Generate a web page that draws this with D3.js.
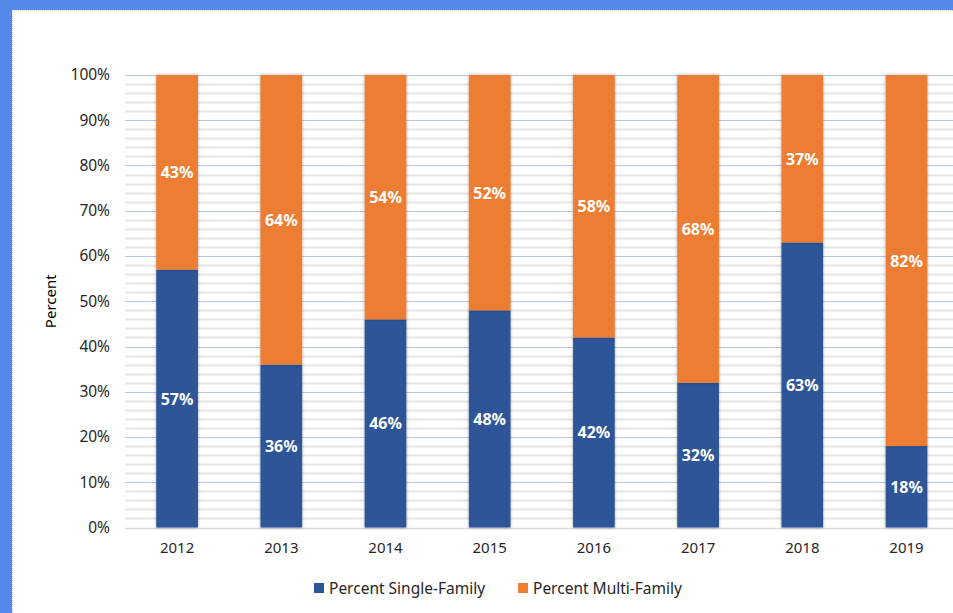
<!DOCTYPE html>
<meta charset="utf-8">
<script src="https://d3js.org/d3.v7.min.js"></script>
<style>
body { margin: 0; background: #5488eb; }
text { font-family: "Noto Sans", "Liberation Sans", sans-serif; }
</style>
<body>
<script>

var width = 953
var height = 613

var years = ['2012', '2013', '2014', '2015', '2016', '2017', '2018', '2019']
var singleFamily = [57, 36, 46, 48, 42, 32, 63, 18]
var multiFamily = [43, 64, 54, 52, 58, 68, 37, 82]
var yTicks = [0, 10, 20, 30, 40, 50, 60, 70, 80, 90, 100]
var seriesNames = ['Percent Single-Family', 'Percent Multi-Family']
var colors = ['#2f5597', '#ed7d31']

var svg = d3.select("body").append("svg")
            .attr('width', width)
            .attr('height', height)
            .style("display", "block")

// frame
svg.append('rect').attr('x', 0).attr('y', 0).attr('width', width).attr('height', height).attr('fill', '#5488eb')
svg.append('rect').attr('x', 12).attr('y', 10).attr('width', width - 12).attr('height', height - 10).attr('fill', '#fff')
svg.append('line').attr('x1', 12).attr('x2', width).attr('y1', 10.5).attr('y2', 10.5)
   .attr('stroke', '#ccc').attr('stroke-dasharray', '1,1')
svg.append('line').attr('x1', 12.5).attr('x2', 12.5).attr('y1', 10).attr('y2', height)
   .attr('stroke', '#ccc').attr('stroke-dasharray', '1,1')

var defs = svg.append('defs')
var f = defs.append('filter').attr('id', 'shadow').attr('x', '-30%').attr('y', '-5%').attr('width', '160%').attr('height', '110%')
f.append('feGaussianBlur').attr('in', 'SourceAlpha').attr('stdDeviation', 1.6).attr('result', 'b')
f.append('feFlood').attr('flood-color', '#000').attr('flood-opacity', 0.35)
f.append('feComposite').attr('in2', 'b').attr('operator', 'in').attr('result', 's')
var fm = f.append('feMerge')
fm.append('feMergeNode').attr('in', 's')
fm.append('feMergeNode').attr('in', 'SourceGraphic')

var x = d3.scaleBand().domain(years).range([125, 958.6]).paddingInner(0.6).paddingOuter(0.3)
var y = d3.scaleLinear().domain([0, 100]).range([527.5, 75])

// minor gridlines
var minor = d3.range(2, 100, 2).filter(function(d) { return d % 10 != 0 })
svg.append('g').selectAll('line').data(minor).enter().append('line')
   .attr('x1', 125).attr('x2', width)
   .attr('y1', function(d) { return Math.round(y(d)) + 0.5 })
   .attr('y2', function(d) { return Math.round(y(d)) + 0.5 })
   .attr('stroke', '#e6e6e6').attr('stroke-width', 2)

// major gridlines
svg.append('g').selectAll('line').data(yTicks.slice(1)).enter().append('line')
   .attr('x1', 125).attr('x2', width)
   .attr('y1', function(d) { return Math.round(y(d)) + 0.5 })
   .attr('y2', function(d) { return Math.round(y(d)) + 0.5 })
   .attr('stroke', '#b4c7e7').attr('stroke-width', 1)

svg.append('line').attr('x1', 125).attr('x2', width)
   .attr('y1', Math.round(y(0)) + 0.5).attr('y2', Math.round(y(0)) + 0.5)
   .attr('stroke', '#d9d9d9').attr('stroke-width', 1.5)

// y axis
var yAxis = svg.append("g")
    .attr("transform", "translate(118,0)")
    .call(d3.axisLeft(y).tickValues(yTicks).tickFormat(function(d) { return d + '%' }).tickSize(0).tickPadding(8))
yAxis.select('.domain').remove()
yAxis.selectAll('text').attr('font-size', 15.5).attr('fill', '#262626').style('font-family', '"Noto Sans", sans-serif')

// x axis
var xAxis = svg.append("g")
    .attr("transform", "translate(0," + (y(0) + 12) + ")")
    .call(d3.axisBottom(x).tickSize(0).tickPadding(3))
xAxis.select('.domain').remove()
xAxis.selectAll('text').attr('font-size', 15).attr('fill', '#262626').style('font-family', '"Noto Sans", sans-serif')

svg.append('text').attr('transform', 'translate(56,' + y(50) + ') rotate(-90)')
   .attr('text-anchor', 'middle').attr('font-size', 15).attr('fill', '#000').text('Percent')

// bars
var stackData = years.map(function(yr, i) { return { year: yr, s: singleFamily[i], m: multiFamily[i] } })
var bars = svg.append('g').selectAll('g').data(stackData).enter().append('g')
bars.append('rect').attr('filter', 'url(#shadow)')
    .attr('x', function(d) { return x(d.year) })
    .attr('width', x.bandwidth())
    .attr('y', function(d) { return y(d.s) })
    .attr('height', function(d) { return y(0) - y(d.s) })
    .attr('fill', colors[0])
bars.append('rect').attr('filter', 'url(#shadow)')
    .attr('x', function(d) { return x(d.year) })
    .attr('width', x.bandwidth())
    .attr('y', function(d) { return y(d.s + d.m) })
    .attr('height', function(d) { return y(d.s) - y(d.s + d.m) })
    .attr('fill', colors[1])

bars.append('text')
    .attr('x', function(d) { return x(d.year) + x.bandwidth() / 2 })
    .attr('y', function(d) { return y(d.s / 2) + 6 })
    .attr('text-anchor', 'middle').attr('font-size', 16).attr('font-weight', 'bold').attr('fill', '#fff')
    .text(function(d) { return d.s + '%' })
bars.append('text')
    .attr('x', function(d) { return x(d.year) + x.bandwidth() / 2 })
    .attr('y', function(d) { return y(d.s + d.m / 2) + 6 })
    .attr('text-anchor', 'middle').attr('font-size', 16).attr('font-weight', 'bold').attr('fill', '#fff')
    .text(function(d) { return d.m + '%' })

// legend
var legendX = [314, 518]
var legend = svg.append('g').selectAll('g').data(seriesNames).enter().append('g')
    .attr('transform', function(d, i) { return 'translate(' + legendX[i] + ',583)' })
legend.append('rect').attr('width', 10).attr('height', 10).attr('fill', function(d, i) { return colors[i] })
legend.append('text').attr('x', 15).attr('y', 11).attr('font-size', 15.5).attr('fill', '#262626').text(function(d) { return d })

</script>
</body>
